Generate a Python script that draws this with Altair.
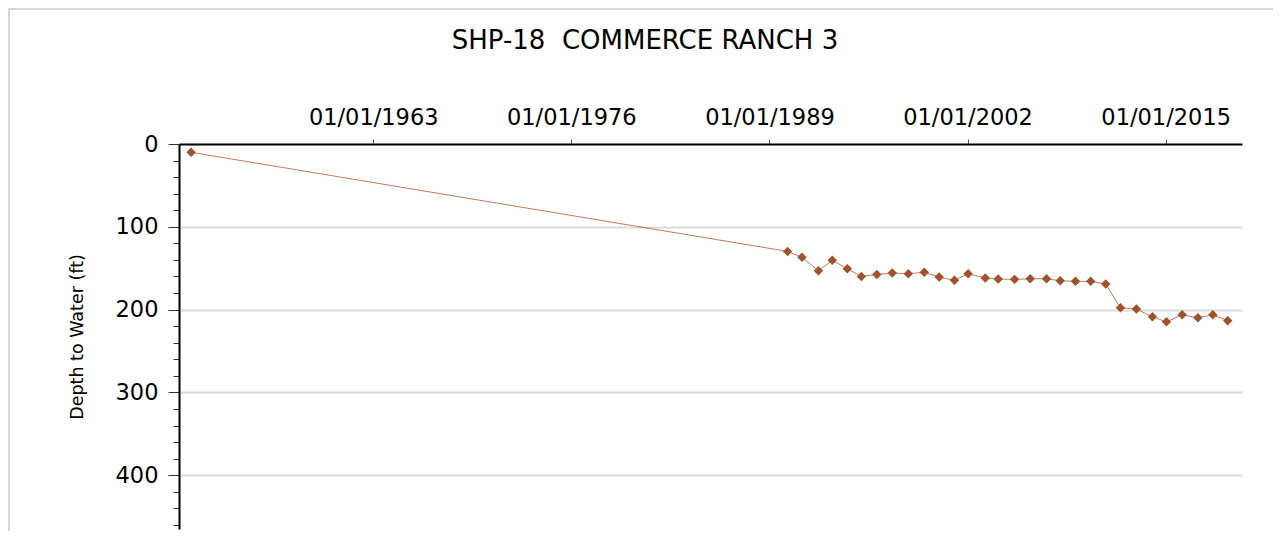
import altair as alt
import pandas as pd

# ---- data ----
dates = ["1951-01-20", "1990-03-10", "1991-02-18", "1992-03-20", "1993-02-14",
         "1994-02-10", "1995-01-12", "1996-01-18", "1997-01-22", "1998-02-10",
         "1999-02-28", "2000-02-20", "2001-02-20", "2002-01-16", "2003-02-28",
         "2004-01-05", "2005-01-30", "2006-02-10", "2007-03-08", "2008-01-30",
         "2009-01-30", "2010-01-30", "2011-01-26", "2012-01-12", "2013-01-30",
         "2014-02-18", "2015-01-20", "2016-01-30", "2017-02-10", "2018-02-03",
         "2019-01-26"]
depths = [10.0, 129.7, 136.9, 153.1, 140.5, 150.7, 159.9, 157.5, 155.9, 156.7,
          155.0, 160.7, 164.7, 156.7, 161.9, 163.1, 163.5, 162.8, 162.8, 165.2,
          165.9, 165.9, 169.2, 197.8, 199.4, 208.7, 214.7, 206.3, 209.9, 206.3,
          213.5]
x_tick_years = [1963, 1976, 1989, 2002, 2015]
y_ticks = list(range(0, 461, 20))
title_text = "SHP-18\u00a0 COMMERCE RANCH 3"
y_title = "Depth to Water (ft)"

df = pd.DataFrame({"date": dates, "depth": depths})

FONT = "DejaVu Sans"
PT_COLOR = "#A0522D"

x_enc = alt.X(
    "date:T",
    scale=alt.Scale(type="utc",
                    domain=[alt.DateTime(year=1950, month=4, date=4, utc=True),
                            alt.DateTime(year=2020, month=1, date=4, utc=True)],
                    nice=False),
    axis=alt.Axis(
        orient="top",
        values=[alt.DateTime(year=y, month=1, date=1, utc=True) for y in x_tick_years],
        labelExpr="utcFormat(datum.value, '%m/%d/%Y')",
        title=None, grid=False,
        domainColor="black", domainWidth=2,
        tickColor="#555555", tickWidth=1, tickSize=5,
        labelFont=FONT, labelFontSize=22.5, labelColor="black",
        labelPadding=10, labelAngle=0,
    ),
)

y_enc = alt.Y(
    "depth:Q",
    scale=alt.Scale(domain=[0, 465], reverse=True, nice=False, zero=False),
    axis=alt.Axis(
        orient="left",
        values=y_ticks,
        labelExpr="datum.value % 100 === 0 ? datum.label : ''",
        format="d",
        title=y_title, titleFont=FONT, titleFontSize=17.5, titleFontWeight="normal",
        titleColor="black", titlePadding=29,
        domainColor="black", domainWidth=2,
        tickColor="#333333", tickWidth=1,
        tickSize={"condition": {"test": "datum.value % 100 === 0", "value": 11}, "value": 6},
        grid=True, gridColor="#dadada", gridWidth=2,
        gridOpacity={"condition": {"test": "datum.value % 100 === 0 && datum.value > 0", "value": 1}, "value": 0},
        labelFont=FONT, labelFontSize=22.5, labelColor="black", labelPadding=10,
    ),
)

base = alt.Chart(df)
line = base.mark_line(color=PT_COLOR, strokeWidth=1, opacity=0.75).encode(x=x_enc, y=y_enc)
pts = base.mark_point(shape="diamond", filled=True, size=90, color=PT_COLOR, opacity=1).encode(x=x_enc, y=y_enc)

one_row = alt.Data(values=[{"t": title_text}])

frame = alt.Chart(one_row).mark_rect(
    fill=None, stroke="#d6d6d6", strokeWidth=2
).encode(x=alt.value(-170), x2=alt.value(1300), y=alt.value(-135), y2=alt.value(500))

title = alt.Chart(one_row).mark_text(
    font=FONT, fontSize=26, color="black", align="center", baseline="alphabetic"
).encode(text="t:N", x=alt.value(466), y=alt.value(-95))

chart = alt.layer(frame, line, pts, title).properties(
    width=1063, height=385,
    autosize=alt.AutoSizeParams(type="none"),
    padding={"left": 171, "top": 136, "right": 31, "bottom": 2},
    background="white",
).configure_view(stroke=None)

chart.save("out.html", embed_options={"renderer": "svg", "actions": False})
